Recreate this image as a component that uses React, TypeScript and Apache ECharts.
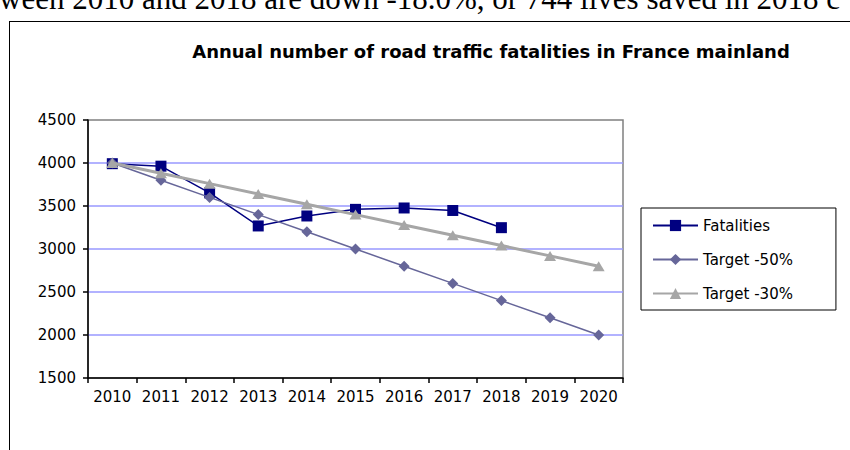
import React, { useEffect, useRef } from "react";
import * as echarts from "echarts";

const years = ["2010", "2011", "2012", "2013", "2014", "2015", "2016", "2017", "2018", "2019", "2020"];
const fatalities = [3992, 3963, 3653, 3268, 3384, 3461, 3477, 3448, 3248, null, null];
const target50 = [4000, 3800, 3600, 3400, 3200, 3000, 2800, 2600, 2400, 2200, 2000];
const target30 = [4000, 3880, 3760, 3640, 3520, 3400, 3280, 3160, 3040, 2920, 2800];

const titleText = "Annual number of road traffic fatalities in France mainland";
const clippedText = "ween 2010 and 2018 are down -18.0%, or 744 lives saved in 2018 c";

export default function App() {
  const ref = useRef<HTMLDivElement>(null);
  useEffect(() => {
    if (!ref.current) return;
    const chart = echarts.init(ref.current, undefined, { renderer: "svg" });
    const font = "DejaVu Sans";
    chart.setOption({
      animation: false,
      backgroundColor: "#ffffff",
      title: {
        text: titleText,
        left: 486,
        top: 37,
        textAlign: "center",
        textStyle: { fontFamily: font, fontSize: 18, fontWeight: "bold", color: "#000" },
      },
      graphic: [
        {
          type: "text",
          x: -1,
          y: 14,
          style: {
            text: clippedText,
            font: "31px 'Liberation Serif'",
            fill: "#000",
            textVerticalAlign: "bottom",
          },
        },
        { type: "line", shape: { x1: 9.5, y1: 21, x2: 9.5, y2: 450 }, style: { stroke: "#000", lineWidth: 1 } },
        { type: "line", shape: { x1: 9, y1: 21.5, x2: 850, y2: 21.5 }, style: { stroke: "#000", lineWidth: 1 } },
      ],
      legend: {
        orient: "vertical",
        left: 641,
        top: 208,
        padding: [10, 43, 9, 11],
        borderColor: "#000",
        borderWidth: 1,
        itemWidth: 45,
        itemHeight: 14,
        itemGap: 19,
        itemTextGap: 4,
        textStyle: { fontFamily: font, fontSize: 15, color: "#000" },
        data: ["Fatalities", "Target -50%", "Target -30%"],
      },
      grid: {
        left: 88,
        right: 227,
        top: 120,
        bottom: 72,
        show: true,
        borderColor: "#808080",
        borderWidth: 1.5,
        containLabel: false,
      },
      xAxis: {
        type: "category",
        data: years,
        boundaryGap: true,
        axisLine: { lineStyle: { color: "#000", width: 1.5 } },
        axisTick: { show: true, length: 5, interval: 0, lineStyle: { color: "#000", width: 1.5 } },
        axisLabel: { fontFamily: font, fontSize: 15, color: "#000", margin: 11, interval: 0 },
        splitLine: { show: false },
      },
      yAxis: {
        type: "value",
        min: 1500,
        max: 4500,
        interval: 500,
        axisLine: { show: true, lineStyle: { color: "#000", width: 1.5 } },
        axisTick: { show: true, length: 5, lineStyle: { color: "#000", width: 1.5 } },
        axisLabel: {
          fontFamily: font,
          fontSize: 15,
          color: "#000",
          margin: 12,
          formatter: (v: number) => String(v),
        },
        splitLine: {
          show: true,
          showMinLine: false,
          showMaxLine: false,
          lineStyle: { color: "#9999FF", width: 1.5 },
        },
      },
      series: [
        {
          name: "Fatalities",
          type: "line",
          data: fatalities,
          symbol: "rect",
          symbolSize: 11,
          connectNulls: false,
          lineStyle: { color: "#000080", width: 1.5 },
          itemStyle: { color: "#000080" },
          z: 2,
        },
        {
          name: "Target -50%",
          type: "line",
          data: target50,
          symbol: "diamond",
          symbolSize: 11,
          lineStyle: { color: "#666699", width: 1.5 },
          itemStyle: { color: "#666699" },
          z: 3,
        },
        {
          name: "Target -30%",
          type: "line",
          data: target30,
          symbol: "triangle",
          symbolSize: [12, 10],
          lineStyle: { color: "#A6A6A6", width: 3 },
          itemStyle: { color: "#A6A6A6" },
          z: 4,
        },
      ],
    });
    return () => chart.dispose();
  }, []);
  return (
    <div
      ref={ref}
      style={{ position: "absolute", left: 0, top: 0, width: 850, height: 450, background: "#fff" }}
    />
  );
}
